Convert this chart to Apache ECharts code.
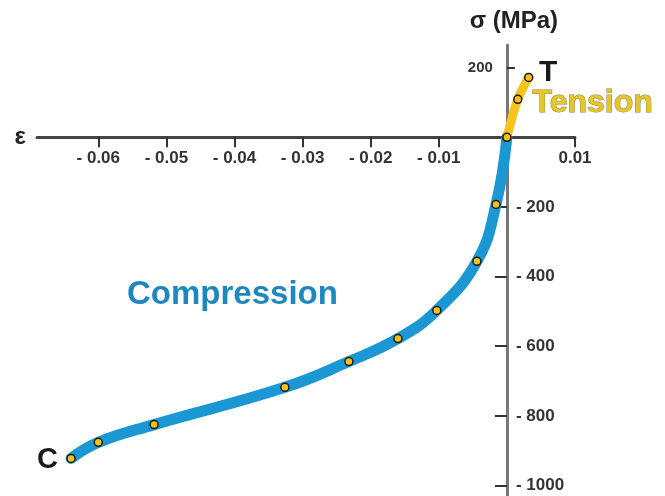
<!DOCTYPE html>
<html>
<head>
<meta charset="utf-8">
<script src="https://cdn.jsdelivr.net/npm/echarts@6/dist/echarts.min.js"></script>
<style>
  html, body { margin: 0; padding: 0; background: #fff; }
  #chart { width: 665px; height: 496px; }
</style>
</head>
<body>
<div id="chart"></div>
<script>
// strain (x) and stress in MPa (y)
const compressionStrain = [-0.0640, -0.0600, -0.0518, -0.0326, -0.0232, -0.0160, -0.0103, -0.0044, -0.0016, 0];
const compressionStress = [-922, -876, -825, -718, -644, -578, -497, -356, -193, 0];
const tensionStrain = [0, 0.0016, 0.0032];
const tensionStress = [0, 109, 172];

const xTickValues = [-0.06, -0.05, -0.04, -0.03, -0.02, -0.01, 0.01];
const yNegTicks = [-200, -400, -600, -800, -1000];
const yPosTicks = [200];

const FONT = '"Liberation Sans", Arial, sans-serif';
const BLUE = '#1b98d4';
const YELLOW = '#f7c31e';

// axis ranges and grid box
const xMin = -0.069, xMax = 0.01;
const yMin = -1030, yMax = 265;
const W = 665, H = 496;
const gLeft = 37, gRight = 90, gTop = 45, gBottom = 0;

// where the zero lines fall, so the axes can be moved onto them
const gW = W - gLeft - gRight, gH = H - gTop - gBottom;
const zeroX = gLeft + (0 - xMin) / (xMax - xMin) * gW;
const zeroY = gTop + (yMax - 0) / (yMax - yMin) * gH;

const pair = (xs, ys) => xs.map((x, i) => [x, ys[i]]);

const chart = echarts.init(document.getElementById('chart'));

const marker = {
    color: '#f2c21a',
    borderColor: '#1a1a1a',
    borderWidth: 1.5
};

const labelFont = { fontFamily: FONT, fontSize: 17, fontWeight: 'bold', color: '#333' };

const option = {
    animation: false,
    grid: {
        left: gLeft,
        right: gRight,
        top: gTop,
        bottom: gBottom,
        outerBoundsMode: 'none',
        containLabel: false
    },
    xAxis: {
        type: 'value',
        min: xMin,
        max: xMax,
        position: 'bottom',
        offset: zeroY - (H - gBottom),
        name: 'ε',
        nameLocation: 'start',
        nameGap: 11,
        nameTextStyle: { fontFamily: FONT, fontSize: 24, fontWeight: 'bold', color: '#222' },
        axisLine: { onZero: false, lineStyle: { color: '#444', width: 3 } },
        axisTick: { show: true, customValues: xTickValues, length: 10, lineStyle: { color: '#333', width: 2 } },
        axisLabel: Object.assign({
            customValues: xTickValues,
            margin: 13,
            formatter: function (v) {
                return v < 0 ? '- ' + Math.abs(v).toFixed(2) : v.toFixed(2);
            }
        }, labelFont),
        splitLine: { show: false }
    },
    yAxis: [{
        type: 'value',
        min: yMin,
        max: yMax,
        position: 'right',
        offset: zeroX - (W - gRight),
        name: 'σ (MPa)',
        nameLocation: 'end',
        nameGap: 12,
        nameTextStyle: { fontFamily: FONT, fontSize: 24, fontWeight: 'bold', color: '#222', padding: [0, 0, 0, 14] },
        axisLine: { onZero: false, lineStyle: { color: '#777', width: 3 } },
        axisTick: { show: true, inside: true, customValues: yNegTicks, length: 12, lineStyle: { color: '#333', width: 2 } },
        axisLabel: Object.assign({
            customValues: yNegTicks,
            margin: 9,
            formatter: function (v) {
                return '- ' + Math.abs(v);
            }
        }, labelFont),
        splitLine: { show: false }
    }, {
        type: 'value',
        min: yMin,
        max: yMax,
        position: 'left',
        offset: gLeft - zeroX,
        axisLine: { show: false, onZero: false },
        axisTick: { show: true, inside: true, customValues: yPosTicks, length: 8, lineStyle: { color: '#333', width: 2 } },
        axisLabel: {
            customValues: yPosTicks,
            margin: 14,
            fontFamily: FONT,
            fontSize: 15,
            fontWeight: 'bold',
            color: '#333'
        },
        splitLine: { show: false }
    }],
    series: [{
        name: 'Compression',
        type: 'line',
        data: pair(compressionStrain, compressionStress),
        smooth: 0.45,
        symbol: 'circle',
        symbolSize: 8,
        lineStyle: { color: BLUE, width: 11, cap: 'round' },
        itemStyle: marker,
        z: 2
    }, {
        name: 'Tension',
        type: 'line',
        data: pair(tensionStrain, tensionStress),
        smooth: 0.3,
        symbol: 'circle',
        symbolSize: 8,
        lineStyle: { color: YELLOW, width: 9, cap: 'round' },
        itemStyle: marker,
        z: 3
    }],
    graphic: [{
        type: 'text',
        left: 127, top: 278,
        style: { text: 'Compression', fontFamily: FONT, fontSize: 33, fontWeight: 'bold', fill: '#1f87bf' }
    }, {
        type: 'text',
        left: 532, top: 87,
        style: { text: 'Tension', fontFamily: FONT, fontSize: 32, fontWeight: 'bold', fill: '#e5c62c', stroke: '#8c7f3c', lineWidth: 1 }
    }, {
        type: 'text',
        left: 539, top: 58,
        style: { text: 'T', fontFamily: FONT, fontSize: 30, fontWeight: 'bold', fill: '#1a1a1a' }
    }, {
        type: 'text',
        left: 37, top: 445,
        style: { text: 'C', fontFamily: FONT, fontSize: 29, fontWeight: 'bold', fill: '#1a1a1a' }
    }]
};

chart.setOption(option);
</script>
</body>
</html>
